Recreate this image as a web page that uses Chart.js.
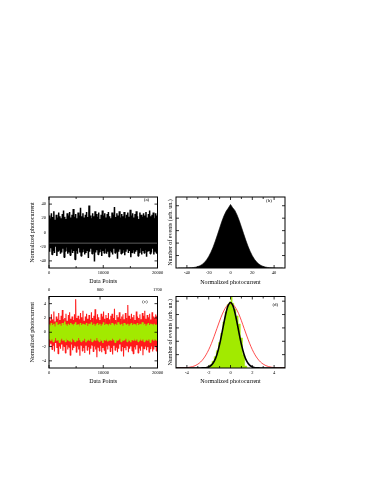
<!DOCTYPE html>
<html>
<head>
<meta charset="utf-8">
<script src="https://cdn.jsdelivr.net/npm/chart.js@4.4.1/dist/chart.umd.min.js"></script>
<style>
  body { margin: 0; background: #fff; }
  #wrap { position: relative; width: 374px; height: 484px; overflow: hidden; background: #fff; }
  canvas { position: absolute; }
  #cA { left: 0; top: 188px; }
  #cB { left: 165px; top: 188px; }
  #cC { left: 0; top: 282px; }
  #cD { left: 165px; top: 282px; }
</style>
</head>
<body>
<div id="wrap">
  <canvas id="cA" width="170" height="104"></canvas>
  <canvas id="cB" width="135" height="104"></canvas>
  <canvas id="cC" width="170" height="110"></canvas>
  <canvas id="cD" width="135" height="110"></canvas>
</div>
<script>
// ---- data ----

// (a) raw photocurrent trace, upper / lower excursions across the 20000 points
const hiA = [24,19,27,22,30,18,25,21,28,23, 20,26,31,22,19,27,24,29,21,25,
             33,22,26,20,28,24,35,23,27,21, 25,29,22,38,24,20,27,23,30,26,
             22,28,19,25,31,24,27,21,26,29, 23,20,28,25,36,22,27,24,30,21,
             26,23,29,20,25,28,22,32,24,27, 21,26,30,23,19,28,25,22,27,24,
             29,21,26,31,23,25,28,20,27,24];
const loA = [-27,-22,-31,-25,-29,-20,-33,-26,-24,-30, -28,-23,-35,-26,-21,-30,-27,-32,-24,-29,
             -26,-38,-25,-30,-22,-28,-33,-27,-24,-31, -29,-25,-36,-27,-23,-30,-26,-41,-28,-25,
             -31,-27,-24,-33,-26,-29,-22,-30,-27,-34, -25,-28,-31,-23,-29,-26,-37,-27,-24,-30,
             -28,-25,-32,-27,-23,-29,-26,-35,-28,-24, -30,-27,-25,-33,-28,-22,-31,-26,-29,-24,
             -34,-27,-25,-30,-28,-23,-31,-26,-29,-27];
const refLineA = -15;

// (b) histogram of (a)
const histXB = [-48,-46,-44,-42,-40,-38,-36,-34,-32,-30,-28,-26,-24,-22,-20,-18,-16,-14,-12,-10,-8,-6,-4,-2,
                0,2,4,6,8,10,12,14,16,18,20,22,24,26,28,30,32,34,36,38,40,42,44,46,48];
const histYB = [0,0,0.001,0.001,0.002,0.003,0.005,0.008,0.014,0.023,0.037,0.058,0.088,0.130,0.184,0.252,
                0.333,0.430,0.532,0.640,0.745,0.838,0.912,0.962,
                1.02,0.968,0.925,0.852,0.762,0.660,0.553,0.449,0.352,0.268,0.197,0.140,0.096,0.064,
                0.041,0.026,0.016,0.009,0.005,0.003,0.002,0.001,0.001,0,0];

// (c) filtered traces: red and green
const hiR = [2.1,1.6,2.5,1.8,2.9,1.5,2.2,1.9,2.7,1.7, 2.3,3.1,1.8,2.0,2.6,1.6,2.4,2.8,1.9,2.2,
             1.7,2.5,4.6,2.0,2.3,1.8,2.7,2.1,3.0,1.6, 2.2,2.6,1.9,2.4,1.7,2.8,2.0,2.3,3.2,1.8,
             2.5,2.1,1.7,2.6,2.2,2.9,1.9,2.4,2.0,2.7, 1.8,2.3,2.6,2.0,3.3,1.7,2.4,2.1,2.8,1.9,
             2.2,2.5,1.8,2.7,2.0,3.8,2.3,1.9,2.6,2.1, 2.4,1.7,2.9,2.2,2.0,2.5,1.8,2.7,2.3,3.0,
             1.9,2.4,2.1,2.6,1.8,2.8,2.2,2.0,2.5,2.3];
const loR = [-2.0,-1.6,-2.4,-1.8,-2.7,-1.5,-2.2,-3.0,-1.9,-2.3, -1.7,-2.6,-2.0,-2.9,-1.8,-2.4,-2.1,-3.2,-1.7,-2.5,
             -2.2,-1.9,-2.8,-2.0,-2.4,-3.3,-1.8,-2.6,-2.2,-2.9, -1.9,-2.5,-2.1,-3.1,-2.3,-1.8,-2.7,-2.0,-2.4,-3.5,
             -2.1,-2.6,-1.9,-2.8,-2.2,-2.5,-3.0,-2.0,-2.4,-1.8, -2.7,-2.2,-3.1,-1.9,-2.5,-2.1,-2.8,-2.3,-1.7,-2.6,
             -2.0,-3.4,-2.2,-2.5,-1.9,-2.8,-2.3,-2.0,-2.6,-3.0, -2.1,-2.4,-1.8,-2.9,-2.2,-2.6,-2.0,-3.2,-2.3,-1.9,
             -2.5,-2.1,-2.8,-2.3,-2.0,-2.7,-2.4,-1.9,-2.6,-2.2];
const hiG = [1.1,0.9,1.3,1.0,1.2,0.8,1.4,1.0,1.1,1.2, 0.9,1.3,1.0,1.5,1.1,0.9,1.2,1.0,1.3,1.1,
             0.9,1.2,1.4,1.0,1.1,0.8,1.3,1.0,1.2,1.1, 1.0,1.3,0.9,1.2,1.1,1.4,1.0,1.2,0.9,1.1,
             1.3,1.0,1.2,0.9,1.1,1.4,1.0,1.2,1.1,0.9, 1.2,1.0,1.3,1.1,0.9,1.2,1.0,1.4,1.1,1.0,
             1.2,0.9,1.3,1.1,1.0,1.2,0.9,1.1,1.3,1.0, 1.2,1.1,0.9,1.3,1.0,1.2,1.1,1.4,1.0,1.2,
             0.9,1.1,1.3,1.0,1.2,1.1,0.9,1.2,1.0,1.1];
const loG = [-1.0,-1.2,-0.9,-1.3,-1.1,-0.8,-1.2,-1.0,-1.4,-1.1, -0.9,-1.2,-1.0,-1.3,-0.9,-1.1,-1.2,-1.0,-1.4,-0.9,
             -1.1,-1.3,-1.0,-1.2,-0.8,-1.1,-1.3,-1.0,-1.2,-0.9, -1.4,-1.1,-1.0,-1.2,-0.9,-1.3,-1.1,-1.0,-1.2,-0.8,
             -1.1,-1.3,-1.0,-1.2,-1.5,-1.0,-1.1,-0.9,-1.3,-1.1, -1.0,-1.2,-0.9,-1.1,-1.4,-1.0,-1.2,-1.1,-0.9,-1.3,
             -1.0,-1.2,-1.1,-0.9,-1.3,-1.0,-1.2,-1.4,-1.0,-1.1, -0.9,-1.2,-1.0,-1.3,-1.1,-0.9,-1.2,-1.0,-1.3,-1.1,
             -1.0,-1.2,-0.9,-1.4,-1.1,-1.0,-1.2,-0.9,-1.1,-1.0];

// (d) green histogram plus black and red profiles
const histXD = [-2.4,-2.2,-2.0,-1.8,-1.6,-1.4,-1.2,-1.0,-0.8,-0.6,-0.4,-0.2,0,0.1,0.2,0.4,0.6,0.8,1.0,1.2,1.4,1.6,1.8];
const histYD = [0,0.004,0.02,0.05,0.10,0.17,0.26,0.38,0.52,0.69,0.84,0.95,0.99,1.15,0.97,0.88,0.78,0.66,0.45,0.20,0.03,0,0];
const curveXD = [-5,-4.75,-4.5,-4.25,-4,-3.75,-3.5,-3.25,-3,-2.75,-2.5,-2.25,-2,-1.75,-1.5,-1.25,-1,-0.75,-0.5,-0.25,
                 0,0.25,0.5,0.75,1,1.25,1.5,1.75,2,2.25,2.5,2.75,3,3.25,3.5,3.75,4,4.25,4.5,4.75,5];
const blackD = [0,0,0,0,0,0,0,0,0,0,0.002,0.005,0.016,0.043,0.098,0.199,0.353,0.552,0.760,0.919,
                0.98,0.919,0.760,0.552,0.353,0.199,0.098,0.043,0.016,0.005,0.002,0,0,0,0,0,0,0,0,0,0];
const redD = [0,0.001,0.002,0.003,0.006,0.012,0.020,0.034,0.057,0.089,0.135,0.196,0.273,0.367,0.474,0.589,0.703,0.807,0.890,0.944,
              0.963,0.946,0.893,0.812,0.708,0.592,0.478,0.370,0.275,0.197,0.136,0.090,0.058,0.035,0.021,0.012,0.006,0.003,0.002,0.001,0];

// tick labels
const xTicksA = [0, 10000, 20000];
const yTicksA = [-40, -20, 0, 20, 40];
const xTicksB = [-40, -20, 0, 20, 40];
const yTicksB = [0.2, 0.4, 0.6, 0.8, 1.0];
const xTicksC = [0, 10000, 20000];
const topTicksC = [0, 800, 1700];
const yTicksC = [-4, -2, 0, 2, 4];
const xTicksD = [-4, -2, 0, 2, 4];
const yTicksD = [0.2, 0.4, 0.6, 0.8, 1.0];

// ---- helpers ----
Chart.defaults.font.family = "'Liberation Serif', 'Times New Roman', serif";
Chart.defaults.color = '#000';

// noise trace: alternate upper and lower excursions along x
function zigzag(hi, lo, xMax) {
    const pts = [];
    const n = hi.length * 2;
    for (let i = 0; i < hi.length; i++) {
        pts.push({ x: (2 * i) * xMax / (n - 1), y: hi[i] });
        pts.push({ x: (2 * i + 1) * xMax / (n - 1), y: lo[i] });
    }
    return pts;
}
function pairs(xs, ys) {
    return xs.map((x, i) => ({ x: x, y: ys[i] }));
}
const setTicks = vals => s => { s.ticks = vals.map(v => ({ value: v })); };
const fixW = w => s => { s.width = w; };
const fixH = h => s => { s.height = h; };

// frame + inward tick marks + panel letter
const frameTicks = {
    id: 'frameTicks',
    afterDatasetsDraw(chart, args, opts) {
        const ctx = chart.ctx, a = chart.chartArea;
        const scales = Object.values(chart.scales);
        const hasTop = scales.some(s => s.position === 'top');
        ctx.save();
        ctx.strokeStyle = '#000';
        ctx.lineWidth = 0.8;
        scales.forEach(s => {
            const vals = s.ticks.map(t => t.value);
            const minor = [];
            if (opts.minor && opts.minor.includes(s.id)) {
                for (let i = 0; i < vals.length - 1; i++) minor.push((vals[i] + vals[i + 1]) / 2);
            }
            const mark = (v, len) => {
                const p = s.getPixelForValue(v);
                ctx.beginPath();
                if (s.isHorizontal()) {
                    if (p < a.left || p > a.right) return;
                    if (s.position === 'bottom') {
                        ctx.moveTo(p, a.bottom); ctx.lineTo(p, a.bottom - len);
                        if (!hasTop) { ctx.moveTo(p, a.top); ctx.lineTo(p, a.top + len); }
                    } else {
                        ctx.moveTo(p, a.top); ctx.lineTo(p, a.top + len);
                    }
                } else {
                    if (p < a.top || p > a.bottom) return;
                    ctx.moveTo(a.left, p); ctx.lineTo(a.left + len, p);
                    ctx.moveTo(a.right, p); ctx.lineTo(a.right - len, p);
                }
                ctx.stroke();
            };
            vals.forEach(v => mark(v, 3));
            minor.forEach(v => mark(v, 2));
        });
        ctx.lineWidth = 1;
        ctx.strokeRect(a.left, a.top, a.width, a.height);
        if (opts.label) {
            ctx.fillStyle = '#000';
            ctx.font = "5px 'Liberation Serif', serif";
            ctx.textAlign = 'center';
            ctx.textBaseline = 'middle';
            ctx.fillText(opts.label, a.right - opts.dx, a.top + opts.dy);
        }
        ctx.restore();
    }
};

function axis(min, max, ticks, opts) {
    return Object.assign({
        type: 'linear', min: min, max: max,
        afterBuildTicks: setTicks(ticks),
        grid: { display: false, drawTicks: false },
        border: { display: false },
        ticks: { font: { size: 4.5 }, autoSkip: false, maxRotation: 0, callback: v => String(v) }
    }, opts);
}

function baseOptions(padding, scales, plug) {
    return {
        responsive: false,
        animation: false,
        events: [],
        layout: { padding: padding },
        elements: { point: { radius: 0 }, line: { tension: 0, borderJoinStyle: 'bevel' } },
        plugins: { legend: { display: false }, tooltip: { enabled: false }, frameTicks: plug },
        scales: scales
    };
}

const titleFont = { size: 6 };

// ---- (a) ----
new Chart(document.getElementById('cA'), {
    type: 'line',
    data: {
        datasets: [
            { data: [{ x: 0, y: refLineA }, { x: 20000, y: refLineA }], borderColor: '#9a9a9a', borderWidth: 0.6 },
            { data: zigzag(hiA, loA, 20000), borderColor: '#000', borderWidth: 1.5 }
        ]
    },
    options: baseOptions({ top: 9, right: 12.5, left: 0, bottom: 0 }, {
        x: axis(0, 20000, xTicksA, {
            afterFit: fixH(24),
            ticks: { font: { size: 4.5 }, padding: 2.6, autoSkip: false, maxRotation: 0, callback: v => String(v) },
            title: { display: true, text: 'Data Points', font: titleFont, padding: { top: 0, bottom: 6.7 } }
        }),
        y: axis(-50, 50, yTicksA, {
            afterFit: fixW(49),
            ticks: { font: { size: 4.5 }, padding: 3, autoSkip: false, callback: v => String(v) },
            title: { display: true, text: 'Normalized photocurrent', font: titleFont, padding: { top: 28.4, bottom: 0 } }
        })
    }, { label: '(a)', dx: 11, dy: 2.5, minor: ['x'] }),
    plugins: [frameTicks]
});

// ---- (b) ----
new Chart(document.getElementById('cB'), {
    type: 'line',
    data: {
        datasets: [
            { data: pairs(histXB, histYB), borderColor: '#000', backgroundColor: '#000', borderWidth: 0.6, fill: 'origin' }
        ]
    },
    options: baseOptions({ top: 9, right: 15, left: 0, bottom: 0 }, {
        x: axis(-50, 50, xTicksB, {
            afterFit: fixH(24),
            ticks: { font: { size: 4.5 }, padding: 2.6, autoSkip: false, maxRotation: 0, callback: v => String(v) },
            title: { display: true, text: 'Normalized photocurrent', font: titleFont, padding: { top: 0, bottom: 6.2 } }
        }),
        y: axis(0, 1.14, yTicksB, {
            afterFit: fixW(11),
            ticks: { display: false },
            title: { display: true, text: 'Number of events (arb. un.)', font: titleFont, padding: { top: 2.1, bottom: 0 } }
        })
    }, { label: '(b)', dx: 16, dy: 3.7, minor: ['x'] }),
    plugins: [frameTicks]
});

// ---- (c) ----
new Chart(document.getElementById('cC'), {
    type: 'line',
    data: {
        datasets: [
            { data: zigzag(hiG, loG, 20000), borderColor: '#a2ea00', borderWidth: 1.5 },
            { data: zigzag(hiR, loR, 20000), borderColor: '#ff1a1a', borderWidth: 1.1 }
        ]
    },
    options: baseOptions({ top: 0, right: 12.5, left: 0, bottom: 0 }, {
        x: axis(0, 20000, xTicksC, {
            afterFit: fixH(24),
            ticks: { font: { size: 4.5 }, padding: 2.6, autoSkip: false, maxRotation: 0, callback: v => String(v) },
            title: { display: true, text: 'Data Points', font: titleFont, padding: { top: 0, bottom: 7.4 } }
        }),
        x2: axis(0, 1700, topTicksC, {
            position: 'top',
            afterFit: fixH(14.5),
            ticks: { font: { size: 4.5 }, padding: 3.8, autoSkip: false, maxRotation: 0, callback: v => String(v) }
        }),
        y: axis(-5, 5, yTicksC, {
            afterFit: fixW(49),
            ticks: { font: { size: 4.5 }, padding: 3, autoSkip: false, callback: v => String(v) },
            title: { display: true, text: 'Normalized photocurrent', font: titleFont, padding: { top: 29, bottom: 0 } }
        })
    }, { label: '(c)', dx: 12.5, dy: 5.5, minor: ['x'] }),
    plugins: [frameTicks]
});

// ---- (d) ----
new Chart(document.getElementById('cD'), {
    type: 'line',
    data: {
        datasets: [
            { data: pairs(curveXD, blackD), borderColor: '#000', borderWidth: 1.6, cubicInterpolationMode: 'monotone' },
            { data: pairs(curveXD, redD), borderColor: '#ff2020', borderWidth: 0.8, cubicInterpolationMode: 'monotone' },
            { data: pairs(histXD, histYD), borderColor: '#a2ea00', backgroundColor: '#a2ea00', borderWidth: 0.5,
              fill: 'origin', stepped: 'middle' }
        ]
    },
    options: baseOptions({ top: 14.5, right: 15, left: 0, bottom: 0 }, {
        x: axis(-5, 5, xTicksD, {
            afterFit: fixH(24),
            ticks: { font: { size: 4.5 }, padding: 2.6, autoSkip: false, maxRotation: 0, callback: v => String(v) },
            title: { display: true, text: 'Normalized photocurrent', font: titleFont, padding: { top: 0, bottom: 7.4 } }
        }),
        y: axis(0, 1.07, yTicksD, {
            afterFit: fixW(11),
            ticks: { display: false },
            title: { display: true, text: 'Number of events (arb. un.)', font: titleFont, padding: { top: 2.1, bottom: 0 } }
        })
    }, { label: '(d)', dx: 9.7, dy: 8, minor: ['x'] }),
    plugins: [frameTicks]
});
</script>
</body>
</html>
